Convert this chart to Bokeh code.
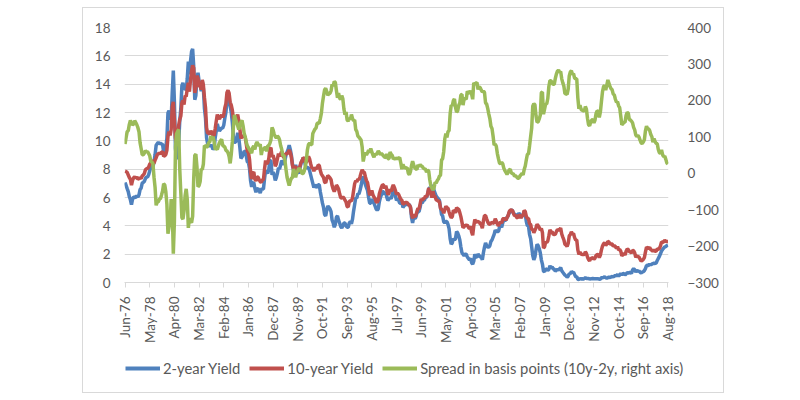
import math
from bokeh.plotting import figure
from bokeh.models import Range1d, LinearAxis, FixedTicker, Legend, LegendItem, Spacer, ColumnDataSource
from bokeh.layouts import row, column
from bokeh.embed import file_html
from bokeh.resources import INLINE

# Monthly data, Jun-1976 .. Aug-2018 (index 0 = Jun-76)
yield_10y = [
    7.86, 7.83, 7.77, 7.59, 7.41, 7.29, 6.87,
    7.21, 7.39, 7.46, 7.37, 7.46, 7.28, 7.33, 7.40, 7.34, 7.52, 7.58, 7.69,
    7.96, 8.03, 8.04, 8.15, 8.35, 8.46, 8.64, 8.41, 8.42, 8.64, 8.81, 9.01,
    9.10, 9.10, 9.12, 9.18, 9.25, 8.91, 8.95, 9.03, 9.33, 10.30, 10.65, 10.39,
    10.80, 12.41, 12.75, 11.47, 10.18, 9.78, 10.25, 11.10, 11.51, 11.75, 12.68, 12.84,
    12.57, 13.19, 13.12, 13.68, 14.10, 13.47, 14.28, 14.94, 15.32, 15.15, 13.39, 13.72,
    14.59, 14.43, 13.86, 13.87, 13.62, 14.30, 13.95, 13.06, 12.34, 10.91, 10.55, 10.54,
    10.46, 10.72, 10.51, 10.40, 10.38, 10.85, 11.38, 11.85, 11.65, 11.54, 11.69, 11.83,
    11.67, 11.84, 12.32, 12.63, 13.41, 13.56, 13.36, 12.72, 12.52, 12.16, 11.57, 11.50,
    11.38, 11.51, 11.86, 11.43, 10.85, 10.16, 10.31, 10.33, 10.37, 10.24, 9.78, 9.26,
    9.19, 8.70, 7.78, 7.30, 7.71, 7.80, 7.30, 7.17, 7.45, 7.43, 7.25, 7.11,
    7.08, 7.25, 7.25, 8.02, 8.61, 8.40, 8.45, 8.76, 9.42, 9.52, 8.86, 8.99,
    8.67, 8.21, 8.37, 8.72, 9.09, 8.92, 9.06, 9.26, 8.98, 8.80, 8.96, 9.11,
    9.09, 9.17, 9.36, 9.18, 8.86, 8.28, 8.02, 8.11, 8.19, 8.01, 7.87, 7.84,
    8.21, 8.47, 8.59, 8.79, 8.76, 8.48, 8.47, 8.75, 8.89, 8.72, 8.39, 8.08,
    8.09, 7.85, 8.11, 8.04, 8.07, 8.28, 8.27, 7.90, 7.65, 7.53, 7.42, 7.09,
    7.03, 7.34, 7.54, 7.48, 7.39, 7.26, 6.84, 6.59, 6.42, 6.59, 6.87, 6.77,
    6.60, 6.26, 5.98, 5.97, 6.04, 5.96, 5.81, 5.68, 5.36, 5.33, 5.72, 5.77,
    5.75, 5.97, 6.48, 6.97, 7.18, 7.10, 7.30, 7.24, 7.46, 7.74, 7.96, 7.81,
    7.78, 7.47, 7.20, 7.06, 6.63, 6.17, 6.28, 6.49, 6.20, 6.04, 5.93, 5.71,
    5.65, 5.81, 6.27, 6.51, 6.74, 6.91, 6.87, 6.64, 6.83, 6.53, 6.20, 6.30,
    6.58, 6.42, 6.69, 6.89, 6.71, 6.49, 6.22, 6.30, 6.21, 6.03, 5.88, 5.81,
    5.54, 5.57, 5.65, 5.64, 5.65, 5.50, 5.46, 5.34, 4.81, 4.53, 4.83, 4.65,
    4.72, 5.00, 5.23, 5.18, 5.54, 5.90, 5.79, 5.94, 5.92, 6.11, 6.03, 6.28,
    6.66, 6.52, 6.26, 5.99, 6.44, 6.10, 6.05, 5.83, 5.80, 5.74, 5.72, 5.24,
    5.16, 5.10, 4.89, 5.14, 5.39, 5.28, 5.24, 4.97, 4.73, 4.57, 4.65, 5.09,
    5.04, 4.91, 5.28, 5.21, 5.16, 4.93, 4.65, 4.26, 3.87, 3.94, 4.05, 4.03,
    4.05, 3.90, 3.81, 3.96, 3.57, 3.33, 3.98, 4.45, 4.27, 4.29, 4.30, 4.27,
    4.15, 4.08, 3.83, 4.35, 4.72, 4.73, 4.50, 4.28, 4.13, 4.10, 4.19, 4.23,
    4.22, 4.17, 4.50, 4.34, 4.14, 4.00, 4.18, 4.26, 4.20, 4.46, 4.54, 4.47,
    4.42, 4.57, 4.72, 4.99, 5.11, 5.11, 5.09, 4.88, 4.72, 4.73, 4.60, 4.56,
    4.76, 4.72, 4.56, 4.69, 4.75, 5.10, 5.00, 4.67, 4.52, 4.53, 4.15, 4.10,
    3.74, 3.74, 3.51, 3.68, 3.88, 4.10, 4.01, 3.89, 3.69, 3.81, 3.53, 2.42,
    2.52, 2.87, 2.82, 2.93, 3.29, 3.72, 3.56, 3.59, 3.40, 3.39, 3.40, 3.59,
    3.73, 3.69, 3.73, 3.85, 3.42, 3.20, 3.01, 2.70, 2.65, 2.54, 2.76, 3.29,
    3.39, 3.58, 3.41, 3.46, 3.17, 3.00, 3.00, 2.30, 1.98, 2.15, 2.01, 1.98,
    1.97, 1.97, 2.17, 2.05, 1.80, 1.62, 1.53, 1.68, 1.72, 1.75, 1.65, 1.72,
    1.91, 1.98, 1.96, 1.76, 1.93, 2.30, 2.58, 2.74, 2.81, 2.62, 2.72, 2.90,
    2.86, 2.71, 2.72, 2.71, 2.56, 2.60, 2.54, 2.42, 2.53, 2.30, 2.33, 2.21,
    1.88, 1.98, 2.04, 1.94, 2.20, 2.36, 2.32, 2.17, 2.17, 2.07, 2.26, 2.24,
    2.09, 1.78, 1.89, 1.81, 1.81, 1.64, 1.50, 1.56, 1.63, 1.76, 2.14, 2.49,
    2.43, 2.42, 2.48, 2.30, 2.30, 2.19, 2.32, 2.21, 2.20, 2.36, 2.35, 2.40,
    2.58, 2.86, 2.84, 2.87, 2.98, 2.91, 2.89, 2.89,
]

yield_2y = [
    7.06, 6.85, 6.63, 6.42, 6.07, 5.84, 5.50,
    5.88, 6.04, 6.02, 5.98, 6.13, 6.03, 6.19, 6.56, 6.66, 7.01, 7.07, 7.14,
    7.34, 7.45, 7.45, 7.61, 7.87, 8.13, 8.33, 8.15, 8.53, 9.03, 9.69, 9.80,
    9.89, 9.81, 9.82, 9.78, 9.74, 9.20, 9.27, 9.53, 10.18, 11.96, 12.13, 11.76,
    11.51, 13.40, 14.96, 12.80, 9.46, 8.70, 9.10, 9.90, 11.40, 12.30, 13.90, 14.10,
    13.60, 13.80, 13.55, 14.40, 15.60, 14.70, 15.60, 16.30, 16.50, 15.30, 12.90, 13.20,
    14.40, 14.80, 14.20, 14.10, 13.50, 14.20, 13.70, 12.30, 11.60, 10.20, 9.80, 9.70,
    9.60, 9.70, 9.60, 9.40, 9.50, 10.20, 10.70, 11.20, 10.90, 10.70, 10.80, 10.90,
    10.90, 11.10, 11.60, 12.00, 12.80, 13.00, 12.90, 12.45, 12.00, 11.30, 10.30, 9.90,
    9.90, 10.11, 10.56, 10.23, 9.55, 8.76, 8.86, 9.03, 9.27, 9.24, 8.93, 8.51,
    8.49, 8.05, 7.18, 6.75, 7.01, 7.05, 6.65, 6.37, 6.60, 6.63, 6.50, 6.31,
    6.58, 6.60, 6.60, 7.32, 7.91, 7.80, 7.70, 8.00, 8.60, 8.60, 7.60, 7.80,
    7.60, 7.20, 7.40, 7.70, 8.10, 8.00, 8.30, 8.60, 8.50, 8.30, 8.60, 9.00,
    9.20, 9.40, 9.70, 9.40, 9.00, 8.40, 7.90, 8.10, 8.30, 8.00, 7.80, 7.70,
    8.10, 8.40, 8.60, 8.80, 8.70, 8.30, 8.10, 8.10, 8.10, 7.90, 7.60, 7.30,
    7.00, 6.70, 6.90, 6.80, 6.70, 6.90, 6.90, 6.40, 6.00, 5.60, 5.30, 4.80,
    4.70, 5.10, 5.40, 5.30, 5.20, 5.00, 4.40, 4.20, 3.90, 4.10, 4.60, 4.70,
    4.40, 4.20, 3.95, 3.84, 4.00, 4.20, 4.20, 4.00, 3.90, 3.90, 4.20, 4.30,
    4.14, 4.47, 5.04, 5.51, 5.98, 5.95, 6.28, 6.25, 6.51, 6.83, 7.24, 7.49,
    7.30, 6.90, 6.70, 6.50, 6.00, 5.60, 5.60, 5.90, 5.70, 5.60, 5.40, 5.20,
    5.10, 5.20, 5.70, 6.00, 6.20, 6.40, 6.40, 6.20, 6.40, 6.00, 5.80, 5.90,
    6.00, 5.90, 6.20, 6.50, 6.30, 6.10, 5.80, 5.90, 5.80, 5.60, 5.60, 5.70,
    5.30, 5.40, 5.50, 5.50, 5.50, 5.50, 5.50, 5.30, 4.60, 4.20, 4.60, 4.50,
    4.60, 4.90, 5.00, 5.00, 5.30, 5.70, 5.60, 5.80, 5.80, 6.00, 6.00, 6.20,
    6.60, 6.70, 6.60, 6.40, 6.90, 6.50, 6.30, 6.10, 6.00, 5.90, 5.80, 5.30,
    4.80, 4.70, 4.30, 4.20, 4.30, 4.30, 4.10, 3.80, 3.10, 2.70, 2.80, 3.10,
    3.00, 3.10, 3.60, 3.50, 3.30, 3.00, 2.50, 2.10, 2.00, 1.90, 2.00, 2.00,
    1.80, 1.70, 1.60, 1.70, 1.40, 1.30, 1.50, 2.00, 1.80, 1.80, 2.00, 1.90,
    1.80, 1.80, 1.60, 2.10, 2.50, 2.80, 2.60, 2.50, 2.50, 2.60, 2.90, 3.00,
    3.20, 3.40, 3.70, 3.60, 3.60, 3.60, 3.90, 4.00, 3.90, 4.20, 4.40, 4.40,
    4.40, 4.60, 4.70, 4.90, 5.00, 5.10, 5.10, 4.90, 4.80, 4.80, 4.70, 4.70,
    4.90, 4.80, 4.60, 4.70, 4.80, 5.00, 4.80, 4.30, 4.00, 4.00, 3.40, 3.10,
    2.50, 1.90, 1.60, 1.80, 2.30, 2.70, 2.60, 2.40, 2.10, 1.60, 1.30, 0.80,
    0.76, 0.97, 0.92, 0.88, 0.91, 1.18, 1.02, 1.12, 0.96, 0.95, 0.80, 0.87,
    0.93, 0.86, 0.96, 1.06, 0.83, 0.72, 0.62, 0.52, 0.47, 0.38, 0.45, 0.62,
    0.61, 0.77, 0.70, 0.73, 0.56, 0.41, 0.41, 0.23, 0.21, 0.28, 0.25, 0.26,
    0.24, 0.28, 0.34, 0.29, 0.29, 0.29, 0.23, 0.27, 0.26, 0.28, 0.27, 0.26,
    0.27, 0.27, 0.26, 0.23, 0.25, 0.33, 0.34, 0.36, 0.40, 0.34, 0.30, 0.34,
    0.39, 0.33, 0.40, 0.42, 0.39, 0.45, 0.51, 0.47, 0.57, 0.45, 0.53, 0.64,
    0.55, 0.62, 0.64, 0.54, 0.61, 0.69, 0.67, 0.70, 0.71, 0.64, 0.88, 0.98,
    0.90, 0.73, 0.88, 0.77, 0.82, 0.73, 0.67, 0.74, 0.77, 0.84, 0.98, 1.20,
    1.21, 1.20, 1.31, 1.24, 1.30, 1.34, 1.37, 1.34, 1.38, 1.55, 1.70, 1.84,
    2.03, 2.22, 2.33, 2.42, 2.51, 2.53, 2.61, 2.64,
]

series_names = ["2-year Yield", "10-year Yield", "Spread in basis points (10y-2y, right axis)"]
series_colors = ["#4F81BD", "#C0504D", "#9BBB59"]

tick_labels = ["Jun-76", "May-78", "Apr-80", "Mar-82", "Feb-84", "Jan-86", "Dec-87",
               "Nov-89", "Oct-91", "Sep-93", "Aug-95", "Jul-97", "Jun-99", "May-01",
               "Apr-03", "Mar-05", "Feb-07", "Jan-09", "Dec-10", "Nov-12", "Oct-14",
               "Sep-16", "Aug-18"]
tick_step = 23  # months between labels
left_ticks = list(range(0, 19, 2))
right_ticks = list(range(-300, 401, 100))

n = len(yield_2y)
month_index = list(range(n))
spread_bp = [round((a - b) * 100, 1) for a, b in zip(yield_10y, yield_2y)]

src = ColumnDataSource(dict(x=month_index, y2=yield_2y, y10=yield_10y, sp=spread_bp))

FONT = "Lato"
TXT = "#595959"
GRID = "#d9d9d9"
LW = 3.5

# ---------- main chart ----------
p = figure(width=640, height=340, output_backend="svg", toolbar_location=None,
           x_range=Range1d(-0.5, n - 0.5), y_range=Range1d(0, 18),
           min_border_left=41, min_border_right=55, min_border_top=19, min_border_bottom=66)
p.extra_y_ranges = {"spread": Range1d(-300, 400)}
p.outline_line_color = None
p.background_fill_color = "white"
p.border_fill_color = "white"

p.xgrid.grid_line_color = None
p.ygrid.grid_line_color = GRID
p.ygrid.grid_line_width = 1

p.line("x", "y2", source=src, color=series_colors[0], line_width=LW)
p.line("x", "y10", source=src, color=series_colors[1], line_width=LW)
p.line("x", "sp", source=src, color=series_colors[2], line_width=LW, y_range_name="spread")

ya = p.yaxis[0]
ya.ticker = FixedTicker(ticks=left_ticks)
ya.axis_line_color = None
ya.major_tick_line_color = None
ya.minor_tick_line_color = None
ya.major_label_standoff = 8
ya.major_label_text_font = FONT
ya.major_label_text_font_size = "13.5px"
ya.major_label_text_color = TXT

ra = LinearAxis(y_range_name="spread", ticker=FixedTicker(ticks=right_ticks))
ra.axis_line_color = None
ra.major_tick_line_color = None
ra.minor_tick_line_color = None
ra.major_label_standoff = 13
ra.major_label_text_font = FONT
ra.major_label_text_font_size = "13.5px"
ra.major_label_text_color = TXT
p.add_layout(ra, "right")

xa = p.xaxis[0]
xticks = [i * tick_step for i in range(len(tick_labels))]
xa.ticker = FixedTicker(ticks=xticks)
xa.major_label_overrides = {t: lab for t, lab in zip(xticks, tick_labels)}
xa.major_label_orientation = math.pi / 2
xa.axis_line_color = GRID
xa.major_tick_line_color = GRID
xa.major_tick_in = 0
xa.major_tick_out = 5
xa.minor_tick_line_color = None
xa.major_label_standoff = 9
xa.major_label_text_font = FONT
xa.major_label_text_font_size = "13.5px"
xa.major_label_text_color = TXT

# ---------- legend strip (its lines lie outside its visible range; only the legend shows) ----------
pl = figure(width=640, height=44, output_backend="svg", toolbar_location=None,
            x_axis_type=None, y_axis_type=None,
            x_range=Range1d(-20, -10), y_range=Range1d(0, 1),
            min_border=0, min_border_left=0, min_border_right=0,
            min_border_top=0, min_border_bottom=0)
pl.grid.visible = False
pl.outline_line_color = None
pl.background_fill_color = "white"
pl.border_fill_color = "white"
leg_r = [pl.line("x", col, source=src, color=c, line_width=4)
         for col, c in zip(["y2", "y10", "sp"], series_colors)]

# keep the legend strip's frame independent of the chart's frame (so it is not clipped)
if "frame_align" in type(pl).properties():
    pl.frame_align = False
    p.frame_align = False
    leg_x, leg_fs = 42, "14.8px"
else:
    leg_x, leg_fs = 0, "13.6px"

legend = Legend(items=[LegendItem(label=nm, renderers=[r]) for nm, r in zip(series_names, leg_r)],
                orientation="horizontal", location=(leg_x, 14))
legend.border_line_color = None
legend.background_fill_alpha = 0
legend.padding = 0
legend.margin = 0
legend.glyph_width = 35
legend.glyph_height = 20
legend.label_standoff = 3
legend.spacing = 9
legend.label_text_font = FONT
legend.label_text_font_size = leg_fs
legend.label_text_color = TXT
pl.add_layout(legend, "center")

box = column(p, pl, spacing=0, styles={"border": "1px solid #d9d9d9"})
layout = column(Spacer(width=10, height=7), row(Spacer(width=82, height=386), box))
open("out.html", "w").write(file_html(layout, INLINE))
